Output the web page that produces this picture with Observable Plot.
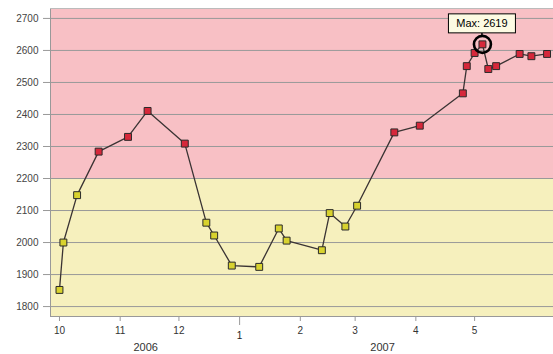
<!DOCTYPE html>
<html>
<head>
<meta charset="utf-8">
<script src="https://cdn.jsdelivr.net/npm/d3@7"></script>
<script src="https://cdn.jsdelivr.net/npm/@observablehq/plot@0.6"></script>
<style>
  html, body { margin: 0; padding: 0; background: #fff; }
  #chart svg { display: block; font-family: "Liberation Sans", Arial, sans-serif; }
</style>
</head>
<body>
<div id="chart"></div>
<script>
// ---- data ----
const dates = [
  "2006-10-01","2006-10-03","2006-10-10","2006-10-21","2006-11-05","2006-11-15",
  "2006-12-04","2006-12-15","2006-12-19","2006-12-28","2007-01-11","2007-01-21",
  "2007-01-25","2007-02-12","2007-02-16","2007-02-24","2007-03-02","2007-03-21",
  "2007-04-03","2007-04-25","2007-04-27","2007-05-01","2007-05-05","2007-05-08",
  "2007-05-12","2007-05-24","2007-05-30","2007-06-07"
];
const values = [
  1852, 2000, 2148, 2284, 2330, 2411,
  2309, 2062, 2022, 1928, 1924, 2044,
  2006, 1976, 2092, 2050, 2115, 2344,
  2365, 2466, 2551, 2592, 2619, 2542,
  2551, 2589, 2582, 2589
];
const threshold = 2200;
const yTicks = [1800, 1900, 2000, 2100, 2200, 2300, 2400, 2500, 2600, 2700];
const monthTicks = ["2006-10-01","2006-11-01","2006-12-01","2007-01-01","2007-02-01","2007-03-01","2007-04-01","2007-05-01"];
const monthLabels = ["10","11","12","1","2","3","4","5"];
const yearLabels = ["2006", "2007"];
const yearAt = ["2006-11-14", "2007-03-15"];
const xDomain = ["2006-09-26T10:00", "2007-06-10T07:00"];
const yDomain = [1769, 2731];

// ---- build ----
const parse = s => new Date(s.length > 10 ? s + ":00Z" : s + "T00:00:00Z");
const data = dates.map((d, i) => ({date: parse(d), value: values[i]}));
const maxIdx = d3.maxIndex(values);
const maxPt = data[maxIdx];
const xd = xDomain.map(parse);
const ticks = monthTicks.map(parse);
const labelOf = new Map(ticks.map((t, i) => [+t, monthLabels[i]]));
const janTicks = ticks.filter(t => t.getUTCMonth() === 0);
const otherTicks = ticks.filter(t => t.getUTCMonth() !== 0);
const bands = [
  {y1: yDomain[0], y2: threshold, fill: "#f6f0bd"},
  {y1: threshold, y2: yDomain[1], fill: "#f8c0c5"}
];
const years = yearLabels.map((t, i) => ({date: parse(yearAt[i]), text: t}));

const annotation = (index, scales) => {
  const cx = scales.x(maxPt.date), cy = scales.y(maxPt.value);
  const g = d3.create("svg:g");
  const bw = 67, bh = 19, gap = 11;
  g.append("line").attr("x1", cx).attr("x2", cx).attr("y1", cy - gap).attr("y2", cy - 8)
    .attr("stroke", "#000").attr("stroke-width", 1.5);
  g.append("rect").attr("x", cx - bw / 2).attr("y", cy - gap - bh).attr("width", bw).attr("height", bh)
    .attr("fill", "#fdfbe3").attr("stroke", "#000").attr("stroke-width", 1);
  g.append("text").attr("x", cx).attr("y", cy - gap - bh / 2).attr("dy", "0.35em")
    .attr("text-anchor", "middle").attr("font-size", 11).attr("fill", "#000")
    .text("Max: " + maxPt.value);
  return g.node();
};

const chart = Plot.plot({
  width: 553,
  height: 354,
  marginLeft: 50,
  marginRight: 0,
  marginTop: 8,
  marginBottom: 38,
  style: {background: "#fff", color: "#333", fontFamily: "Liberation Sans, Arial, sans-serif"},
  x: {type: "utc", domain: xd, axis: null},
  y: {domain: yDomain, axis: null},
  marks: [
    Plot.rect(bands, {x1: () => xd[0], x2: () => xd[1], y1: "y1", y2: "y2", fill: "fill"}),
    Plot.ruleY(yTicks, {stroke: "#999", strokeWidth: 1}),
    Plot.axisY({ticks: yTicks, tickSize: 7, tickPadding: 5, stroke: "#999", fontSize: 10, fill: "#444",
      tickFormat: d => String(d)}),
    Plot.ruleX([xd[0]], {stroke: "#999"}),
    Plot.ruleY([yDomain[0]], {stroke: "#999"}),
    Plot.ruleY([yDomain[1]], {stroke: "#bbb"}),
    Plot.axisX({ticks: otherTicks, tickSize: 5, tickPadding: 5, stroke: "#999", fontSize: 10, fill: "#333",
      tickFormat: d => labelOf.get(+d)}),
    Plot.axisX({ticks: janTicks, tickSize: 9, tickPadding: 6, stroke: "#999", fontSize: 10, fill: "#222",
      tickFormat: d => labelOf.get(+d)}),
    Plot.text(years, {x: "date", text: "text", frameAnchor: "bottom", dy: 34, fontSize: 11, fill: "#333"}),
    Plot.line(data, {x: "date", y: "value", stroke: "#3a3333", strokeWidth: 1.3}),
    Plot.dot(data, {x: "date", y: "value", symbol: "square", r: 3.9,
      fill: d => d.value >= threshold ? "#d6283b" : "#d8d22e", stroke: "#2a2a2a", strokeWidth: 1}),
    Plot.dot([maxPt], {x: "date", y: "value", r: 8.5, fill: "none", stroke: "#000", strokeWidth: 2.6}),
    annotation
  ]
});
document.getElementById("chart").appendChild(chart);
</script>
</body>
</html>
